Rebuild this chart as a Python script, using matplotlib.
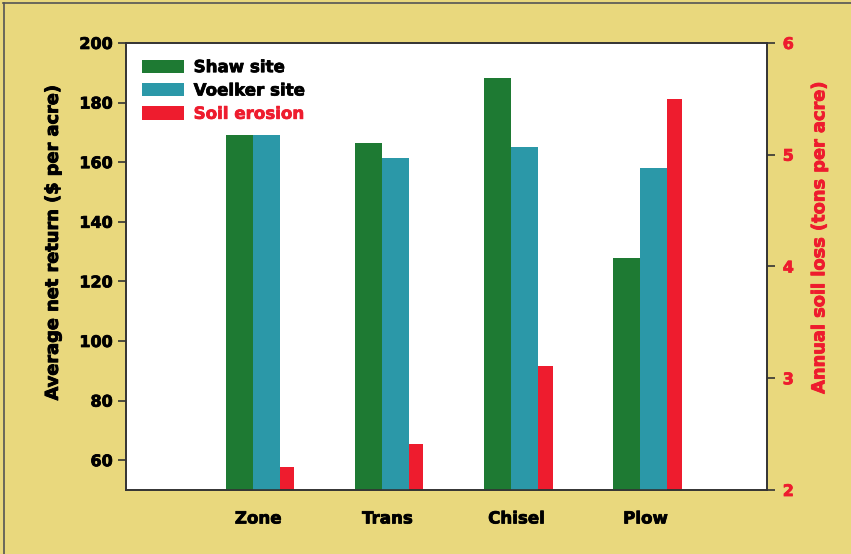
import matplotlib
matplotlib.use("Agg")
import matplotlib.pyplot as plt
import matplotlib.patheffects as pe
import numpy as np

plt.rcParams['font.family'] = ['DejaVu Sans']
HEAVY = "bold"

# Data
categories = ["Zone", "Trans", "Chisel", "Plow"]
shaw_return = [169.2, 166.4, 188.2, 128.0]
voelker_return = [169.2, 161.5, 165.0, 158.0]
soil_erosion = [2.21, 2.41, 3.11, 5.50]

green = "#1E7A33"
teal = "#2B98A8"
red = "#EE1C2E"
bg = "#E9D87D"
spine_col = "#333333"


def heavy(txt, color, lw=0.55):
    """Give a text a thick, poster-style weight."""
    txt.set_fontweight(HEAVY)
    txt.set_color(color)
    txt.set_path_effects([pe.withStroke(linewidth=lw, foreground=color)])


fig = plt.figure(figsize=(8.51, 5.54), dpi=100, facecolor=bg)
ax = fig.add_axes([0.148, 0.1155, 0.753, 0.807])
ax2 = ax.twinx()

x = np.arange(len(categories))
w_main = 0.21
w_red = 0.11

b1 = ax.bar(x - w_main / 2, shaw_return, width=w_main, color=green, label="Shaw site", zorder=2)
b2 = ax.bar(x + w_main / 2, voelker_return, width=w_main, color=teal, label="Voelker site", zorder=2)
b3 = ax2.bar(x + w_main + w_red / 2, soil_erosion, width=w_red, color=red, label="Soil erosion", zorder=2)

ax.set_xlim(-0.985, 3.98)
ax.set_ylim(50, 200)
ax2.set_ylim(2, 6)

ax.set_yticks(np.arange(60, 201, 20))
ax2.set_yticks([2, 3, 4, 5, 6])
ax.set_xticks(x + 0.04)
ax.set_xticklabels(categories)

for a in (ax, ax2):
    for s in a.spines.values():
        s.set_color(spine_col)
        s.set_linewidth(1.2)

ax.tick_params(axis="y", direction="out", length=6, width=1.2, color=spine_col,
               labelsize=11.5, pad=3.5)
for lbl in ax.get_yticklabels():
    heavy(lbl, "black")
ax.tick_params(axis="x", length=0, labelsize=12, pad=14)
for lbl in ax.get_xticklabels():
    heavy(lbl, "black")

ax2.tick_params(axis="y", direction="out", length=6, width=1.2, color=spine_col,
                labelsize=11.5, labelcolor=red, pad=5.5)
for lbl in ax2.get_yticklabels():
    heavy(lbl, red)

ax.set_ylabel("Average net return ($ per acre)", fontsize=12.8)
heavy(ax.yaxis.label, "black", 0.65)
ax.yaxis.set_label_coords(-0.100, 0.553)
ax2.set_ylabel("Annual soil loss (tons per acre)", fontsize=12.8)
heavy(ax2.yaxis.label, red, 0.65)
ax2.yaxis.set_label_coords(1.068, 0.564)

leg = ax.legend(handles=[b1, b2, b3], loc="upper left", frameon=False,
                fontsize=12, handlelength=2.5, handleheight=0.85,
                handletextpad=0.6, labelspacing=0.32, borderaxespad=0,
                borderpad=0, bbox_to_anchor=(0.025, 0.966))
for t, c in zip(leg.get_texts(), ["black", "black", red]):
    heavy(t, c)
ax.set_zorder(ax2.get_zorder() + 1)
ax.patch.set_visible(False)
ax2.patch.set_visible(True)
ax2.set_facecolor("white")

# Thin frame along the top and left edges of the page
fig.add_artist(plt.Line2D([0.004, 1.0], [0.994, 0.994], transform=fig.transFigure,
                          color="#555555", linewidth=1.2))
fig.add_artist(plt.Line2D([0.005, 0.005], [0.0, 0.994], transform=fig.transFigure,
                          color="#555555", linewidth=1.2))

fig.savefig("out.png", dpi=100, facecolor=bg)
